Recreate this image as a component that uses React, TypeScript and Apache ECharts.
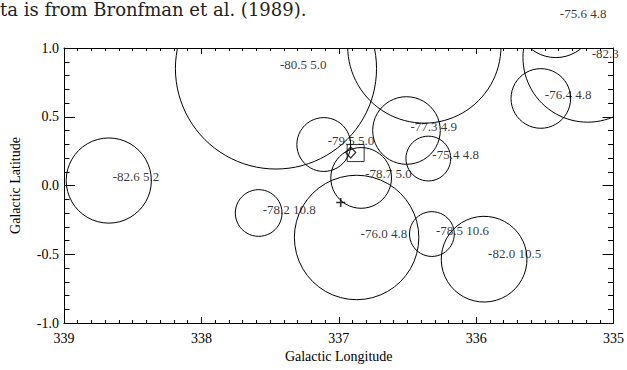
import React, { useEffect, useRef } from "react";
import * as echarts from "echarts";

// Molecular cloud positions (galactic coordinates, degrees), angular radii,
// LSR velocities (km/s) and kinematic distances (kpc).
const cloudLon = [338.674, 337.583, 337.457, 337.109, 336.837, 336.87, 336.507, 336.348, 336.322, 335.942, 335.529, 335.188, 335.42, 336.377];
const cloudLat = [0.036, -0.2, 0.851, 0.298, 0.055, -0.378, 0.4, 0.196, -0.353, -0.527, 0.633, 0.931, 1.22, 1.011];
const cloudRadius = [0.31, 0.17, 0.732, 0.196, 0.221, 0.453, 0.246, 0.163, 0.163, 0.312, 0.217, 0.471, 0.29, 0.558];
const cloudVelocity: (number | null)[] = [-82.6, -78.2, -80.5, -79.5, -78.7, -76.0, -77.3, -75.4, -78.5, -82.0, -76.4, -82.3, -75.6, null];
const cloudDistance: (number | null)[] = [5.2, 10.8, 5.0, 5.0, 5.0, 4.8, 4.9, 4.8, 10.6, 10.5, 4.8, null, 4.8, null];

// Source markers
const squareLon = [336.877];
const squareLat = [0.236];
const diamondLon = [336.913];
const diamondLat = [0.24];
const plusLon = [336.986];
const plusLat = [-0.124];

const xTicks = [339, 338, 337, 336, 335];
const yTicks = [-1.0, -0.5, 0.0, 0.5, 1.0];

const FONT = "Liberation Serif, Times New Roman, serif";

function cloudLabel(i: number): string {
  const v = cloudVelocity[i];
  const d = cloudDistance[i];
  if (v === null) return "";
  if (d === null) return v.toFixed(1);
  return `${v.toFixed(1)} ${d.toFixed(1)}`;
}

export default function App() {
  const ref = useRef<HTMLDivElement>(null);

  useEffect(() => {
    if (!ref.current) return;
    const chart = echarts.init(ref.current, undefined, { renderer: "svg" });

    const cloudData = cloudLon.map((lon, i) => [lon, cloudLat[i], cloudRadius[i]]);
    const labelData = cloudLon.map((lon, i) => ({ value: [lon, cloudLat[i]], name: cloudLabel(i) }));

    const axisLine = { show: true, onZero: false, lineStyle: { color: "#000", width: 1 } };
    const xCommon = {
      type: "value" as const,
      min: Math.min(...xTicks),
      max: Math.max(...xTicks),
      interval: 1,
      inverse: true,
      splitLine: { show: false },
      axisLine,
      axisTick: { show: true, inside: true, length: 6, lineStyle: { color: "#000" } },
      minorTick: { show: true, splitNumber: 10, length: 3, lineStyle: { color: "#000" } },
    };
    const yCommon = {
      type: "value" as const,
      min: Math.min(...yTicks),
      max: Math.max(...yTicks),
      interval: 0.5,
      splitLine: { show: false },
      axisLine,
      axisTick: { show: true, inside: true, length: 11, lineStyle: { color: "#000" } },
      minorTick: { show: true, splitNumber: 5, length: 5.5, lineStyle: { color: "#000" } },
    };

    chart.setOption({
      animation: false,
      backgroundColor: "#fff",
      textStyle: { fontFamily: FONT },
      grid: { left: 64, right: 11, top: 48, bottom: 47 },
      graphic: [
        {
          type: "text",
          left: 0,
          top: 0,
          style: {
            text: "ta is from Bronfman et al. (1989).",
            font: "18px DejaVu Serif",
            fill: "#222",
          },
        },
      ],
      xAxis: [
        {
          ...xCommon,
          position: "bottom",
          name: "Galactic Longitude",
          nameLocation: "middle",
          nameGap: 26,
          nameTextStyle: { color: "#000", fontSize: 14, fontFamily: FONT },
          axisLabel: {
            color: "#000",
            fontSize: 14,
            fontFamily: FONT,
            margin: 8,
            formatter: (v: number) => String(Math.round(v)),
          },
        },
        { ...xCommon, position: "top", axisLabel: { show: false } },
      ],
      yAxis: [
        {
          ...yCommon,
          position: "left",
          name: "Galactic Latitude",
          nameLocation: "middle",
          nameGap: 42,
          nameTextStyle: { color: "#000", fontSize: 14, fontFamily: FONT },
          axisLabel: {
            color: "#000",
            fontSize: 14,
            fontFamily: FONT,
            margin: 5,
            formatter: (v: number) => v.toFixed(1),
          },
        },
        { ...yCommon, position: "right", axisLabel: { show: false } },
      ],
      series: [
        {
          type: "custom",
          clip: true,
          xAxisIndex: 0,
          yAxisIndex: 0,
          encode: { x: 0, y: 1 },
          data: cloudData,
          renderItem: (_params: any, api: any) => {
            const c = api.coord([api.value(0), api.value(1)]);
            const s = api.size([api.value(2), api.value(2)]);
            return {
              type: "circle",
              shape: { cx: c[0], cy: c[1], r: s[0] },
              style: { fill: "none", stroke: "#000", lineWidth: 1 },
              silent: true,
            };
          },
        },
        {
          type: "scatter",
          clip: false,
          symbolSize: 0,
          itemStyle: { color: "#000" },
          data: labelData,
          label: {
            show: true,
            position: "right",
            distance: 4,
            offset: [0, -4],
            formatter: (p: any) => p.name,
            color: "#000",
            textBorderWidth: 0,
            fontSize: 13,
            fontFamily: FONT,
          },
          silent: true,
        },
        {
          type: "scatter",
          symbol: "rect",
          symbolSize: [17, 17],
          data: squareLon.map((lon, i) => [lon, squareLat[i]]),
          itemStyle: { color: "none", borderColor: "#000", borderWidth: 1 },
          silent: true,
        },
        {
          type: "scatter",
          symbol: "diamond",
          symbolSize: [10, 11],
          data: diamondLon.map((lon, i) => [lon, diamondLat[i]]),
          itemStyle: { color: "none", borderColor: "#000", borderWidth: 1.3 },
          silent: true,
        },
        {
          type: "scatter",
          symbol: "path://M0,5 L10,5 M5,0 L5,10",
          symbolSize: [9, 9],
          data: plusLon.map((lon, i) => [lon, plusLat[i]]),
          itemStyle: { color: "none", borderColor: "#000", borderWidth: 1.6 },
          silent: true,
        },
      ],
    });

    return () => chart.dispose();
  }, []);

  return (
    <div
      ref={ref}
      style={{ position: "fixed", left: 0, top: 0, width: 627, height: 370 }}
    />
  );
}
